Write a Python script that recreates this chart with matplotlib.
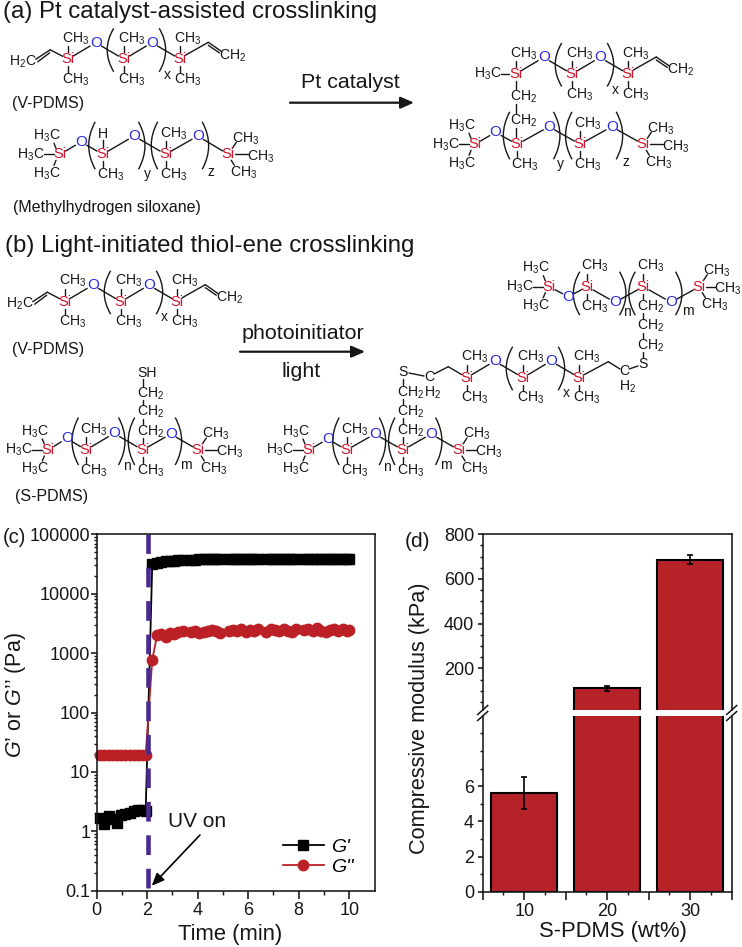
import matplotlib
matplotlib.use("Agg")
import matplotlib.pyplot as plt
from matplotlib.patches import PathPatch
from matplotlib.path import Path
from matplotlib.ticker import FixedLocator, NullFormatter

plt.rcParams['font.family'] = ['Liberation Sans', 'DejaVu Sans']
plt.rcParams['mathtext.fontset'] = 'custom'
plt.rcParams['mathtext.rm'] = 'Liberation Sans'
plt.rcParams['mathtext.it'] = 'Liberation Sans:italic'
plt.rcParams['mathtext.bf'] = 'Liberation Sans:bold'
plt.rcParams['mathtext.default'] = 'regular'

W, H = 742, 947

# panel (c) rheology
time_min = [0.13, 0.30, 0.47, 0.63, 0.80, 0.97, 1.13, 1.30, 1.47, 1.63, 1.80, 1.94,
            2.20, 2.39, 2.56, 2.73, 2.89, 3.06, 3.23, 3.40,
            3.72, 3.89, 4.06, 4.23, 4.40, 4.56, 4.73, 4.90,
            5.22, 5.39, 5.56, 5.73, 5.90, 6.06, 6.23, 6.40,
            6.72, 6.89, 7.06, 7.23, 7.40, 7.56, 7.73, 7.89,
            8.21, 8.38, 8.55, 8.72, 8.89, 9.06, 9.23, 9.40, 9.57, 9.74, 9.91, 9.99]
g_storage = [1.68, 1.35, 1.84, 1.63, 1.38, 1.91, 1.96, 2.05, 2.23, 2.32, 2.3, 2.23,
             32000, 33500, 34500, 35000, 35500, 36000, 36500, 36800,
             37200, 37500, 37800, 38000, 38200, 38400, 38500, 38600,
             38700, 38800, 38800, 38900, 38900, 39000, 39000, 39000,
             39000, 39000, 39100, 39100, 39000, 39100, 39100, 39000,
             39100, 39000, 39100, 39100, 39000, 39000, 39100, 39000, 39000, 39100, 39000, 39000]
g_loss = [19.4, 19.3, 19.3, 19.4, 19.3, 19.4, 19.3, 19.3, 19.4, 19.3, 19.4, 19.4,
          770, 2000, 2100, 1850, 2200, 2100, 2250, 2350,
          2250, 2400, 2150, 2300, 2350, 2450, 2400, 2200,
          2350, 2450, 2400, 2500, 2300, 2450, 2350, 2500,
          2300, 2550, 2450, 2350, 2500, 2400, 2300, 2500,
          2450, 2500, 2350, 2600, 2400, 2300, 2450, 2550, 2400, 2500, 2350, 2450]
uv_time = 2.03
c_yticks = [0.1, 1, 10, 100, 1000, 10000, 100000]
c_yticklabels = ['0.1', '1', '10', '100', '1000', '10000', '100000']

# panel (d) compressive modulus
spdms_wt = [10, 20, 30]
modulus_kpa = [5.6, 110, 687]
modulus_err = [0.9, 13, 20]


def px_axes(left, top, right, bottom):
    return fig.add_axes([left / W, 1 - bottom / H, (right - left) / W, (bottom - top) / H])


fig = plt.figure(figsize=(W / 100, H / 100), dpi=100, facecolor='white')
bg = fig.add_axes([0, 0, 1, 1])
bg.set_xlim(0, W)
bg.set_ylim(H, 0)
bg.axis('off')

INK = '#161616'
SI_RED = '#d0142c'
O_BLUE = '#2b2be0'


def lab(x, y, s, size=10.1, color=INK):
    bg.text(x, y, s, fontsize=size, color=color, ha='center', va='center')


def bond(x0, y0, x1, y1):
    bg.plot([x0, x1], [y0, y1], color=INK, lw=1.0, solid_capstyle='round')


def link(a, b, trim=6.5):
    dx, dy = b[0] - a[0], b[1] - a[1]
    d = (dx ** 2 + dy ** 2) ** 0.5
    ux, uy = dx / d * trim, dy / d * trim
    bond(a[0] + ux, a[1] + uy, b[0] - ux, b[1] - uy)


def paren(x, y0, y1, side):
    bulge = -13 if side == 'l' else 13
    verts = [(x, y0), (x + bulge, (y0 + y1) / 2), (x, y1)]
    bg.add_patch(PathPatch(Path(verts, [Path.MOVETO, Path.CURVE3, Path.CURVE3]),
                           fc='none', ec=INK, lw=1.0))


def si(x, y):
    lab(x, y, 'Si', color=SI_RED, size=10.5)


def ox(x, y):
    lab(x, y, 'O', color=O_BLUE, size=11)


def up_me(x, y):
    bond(x, y - 7, x, y - 13)
    lab(x + 7.5, y - 20.5, 'CH$_3$')


def dn_me(x, y):
    bond(x, y + 7, x, y + 13)
    lab(x + 7.5, y + 20.5, 'CH$_3$')


def end_left(x, y):
    si(x, y)
    lab(x - 13, y - 18.5, 'H$_3$C')
    lab(x - 29, y, 'H$_3$C')
    lab(x - 13, y + 19, 'H$_3$C')
    bond(x - 4, y - 6, x - 6, y - 11)
    bond(x - 16, y, x - 6.5, y)
    bond(x - 4, y + 6, x - 6, y + 11)


def end_right(x, y, reach=32.5):
    si(x, y)
    lab(x + 17.5, y - 16, 'CH$_3$')
    lab(x + reach, y + 2, 'CH$_3$')
    lab(x + 15.5, y + 18.5, 'CH$_3$')
    bond(x + 4, y - 6, x + 8, y - 12)
    bond(x + 6.5, y, x + reach - 13, y)
    bond(x + 3, y + 6, x + 6, y + 11)


def v_core(x, y):
    # Si-O-(Si-O)x-Si backbone shared by every vinyl siloxane
    si(x, y)
    ox(x + 28, y - 16.6)
    si(x + 56.3, y)
    ox(x + 84.2, y - 16.6)
    si(x + 112.6, y)
    up_me(x + 56.3, y)
    dn_me(x + 56.3, y)
    up_me(x + 112.6, y)
    dn_me(x + 112.6, y)
    link((x, y), (x + 28, y - 16.6))
    link((x + 28, y - 16.6), (x + 56.3, y))
    link((x + 56.3, y), (x + 84.2, y - 16.6))
    link((x + 84.2, y - 16.6), (x + 112.6, y))
    paren(x + 46, y - 31, y + 12.5, 'l')
    paren(x + 91.5, y - 31, y + 12.5, 'r')
    lab(x + 99.3, y + 15.5, 'x', size=10)


def vinyl_right(x, y):
    bond(x + 5, y - 4, x + 28, y - 17)
    bond(x + 28, y - 17, x + 41, y - 8)
    bond(x + 28, y - 14, x + 39, y - 6.5)
    lab(x + 52, y - 4, 'CH$_2$')


def vinyl_left(x, y):
    bond(x - 5, y - 3, x - 17.5, y - 9.5)
    bond(x - 17.5, y - 9.5, x - 32, y)
    bond(x - 18, y - 6.5, x - 30, y + 2.5)
    lab(x - 44.5, y + 2, 'H$_2$C')


def v_pdms(x, y):
    v_core(x, y)
    up_me(x, y)
    dn_me(x, y)
    vinyl_left(x, y)
    vinyl_right(x + 112.6, y)


def four_chain(sx, y, oxy, letters, s2, s3, reach=32.5):
    end_left(sx[0], y)
    end_right(sx[3], y, reach)
    si(sx[1], y)
    si(sx[2], y)
    for i, (ox_x, ox_y) in enumerate(oxy):
        ox(ox_x, ox_y)
        link((sx[i], y), (ox_x, ox_y))
        link((ox_x, ox_y), (sx[i + 1], y))
    below = oxy[0][1] > y
    y0, y1 = (y - 15, y + 28.5) if below else (y - 32.5, y + 15)
    paren(sx[1] - 7.5, y0, y1, 'l')
    paren(oxy[1][0] + 4.5, y0, y1, 'r')
    paren(sx[2] - 8, y0, y1, 'l')
    paren(oxy[2][0] + 4.5, y0, y1, 'r')
    for (lx, ly, s) in letters:
        lab(lx, ly, s, size=10)
    s2(sx[1], y)
    s3(sx[2], y)


def hydride(x, y):
    bond(x, y - 7, x, y - 14)
    lab(x, y - 20, 'H')
    dn_me(x, y)


def two_me(x, y):
    up_me(x, y)
    dn_me(x, y)


def ch2_stack(x, ys):
    for yy in ys:
        lab(x + 7.5, yy, 'CH$_2$')


# headings and arrows
bg.text(3, 12, '(a) Pt catalyst-assisted crosslinking', fontsize=17.3, color=INK, ha='left', va='center')
bg.text(5, 246, '(b) Light-initiated thiol-ene crosslinking', fontsize=17.3, color=INK, ha='left', va='center')
lab(350.5, 82, 'Pt catalyst', size=15.4)
lab(302.5, 333, 'photoinitiator', size=15.4)
lab(301, 371, 'light', size=15.4)
arrow = dict(arrowstyle='-|>,head_width=0.35,head_length=0.8', color=INK, lw=1.6, shrinkA=0, shrinkB=0)
bg.annotate('', xy=(414, 102.7), xytext=(290, 102.7), arrowprops=arrow)
bg.annotate('', xy=(365, 351.7), xytext=(240, 351.7), arrowprops=arrow)

lab(48.5, 103, '(V-PDMS)', size=11.5)
lab(107, 207, '(Methylhydrogen siloxane)', size=11.5)
lab(48.5, 349, '(V-PDMS)', size=11.5)
lab(51.5, 496, '(S-PDMS)', size=11.5)

# (a) reactants
v_pdms(67.7, 59.3)
four_chain([60, 102.7, 165.7, 228.3], 154.3, [(81, 142), (134, 136), (197.7, 136)],
           [(147, 174, 'y'), (211, 171.7, 'z')], hydride, two_me)

# (a) product
v_core(515.7, 74)
up_me(515.7, 74)
bond(508.5, 74, 501, 74)
lab(488.3, 74, 'H$_3$C')
vinyl_right(628.3, 74)
ch2_stack(515.7, [96.7, 120.7])
bond(515.7, 81, 515.7, 89)
bond(515.7, 104, 515.7, 113)
bond(515.7, 128, 515.7, 137)
four_chain([475, 517.3, 580, 643.3], 144.3, [(495.3, 132.3), (549, 126.7), (611.7, 126.7)],
           [(560.7, 164, 'y'), (625.7, 162.3, 'z')], dn_me, two_me)

# (b) reactants
v_pdms(64.7, 301.7)
four_chain([48.3, 86, 142.7, 198.3], 450, [(66.7, 438.3), (114, 433.3), (170.7, 434)],
           [(126.7, 466, 'n'), (186, 465, 'm')], two_me, dn_me, reach=31.5)
ch2_stack(142.7, [431.7, 412.3, 393.3])
lab(147.3, 372.7, 'SH')
for y0, y1 in [(379, 386), (400, 405), (419, 424), (438, 443)]:
    bond(142.7, y0, 142.7, y1)

# (b) product, three chains joined through S
four_chain([309, 346.7, 403, 459], 450, [(327.7, 439), (374.7, 434), (431, 434)],
           [(387.3, 466.7, 'n'), (446, 465.3, 'm')], two_me, dn_me, reach=30)
ch2_stack(403, [431, 411.7, 392.7])
lab(403, 372.3, 'S')
for y0, y1 in [(379, 385), (399, 404), (418, 424), (437, 443)]:
    bond(403, y0, 403, y1)

v_core(466.7, 377.7)
up_me(466.7, 377.7)
dn_me(466.7, 377.7)
lab(429, 377.3, 'C')
lab(433, 392.7, 'H$_2$')
bond(409, 373, 424, 376)
bond(434, 374, 448.3, 366.7)
bond(448.3, 366.7, 461.5, 374.5)
bond(584.5, 374.5, 608.3, 361.7)
bond(608.3, 361.7, 620, 369)
lab(624, 370.5, 'C')
lab(627.5, 386.5, 'H$_2$')
bond(629, 369, 638, 366)
lab(643.3, 364, 'S')

four_chain([549.3, 587.3, 643.3, 699.3], 286.7, [(568.3, 296.7), (615, 302.3), (671, 302.3)],
           [(626.7, 312.3, 'n'), (688.3, 310.7, 'm')], two_me, up_me, reach=28.5)
ch2_stack(643.3, [306.7, 326, 346])
for y0, y1 in [(294, 299), (313, 319), (333, 339), (352, 358)]:
    bond(643.3, y0, 643.3, y1)

# panel letters
bg.text(3, 537, '(c)', fontsize=14.5, color=INK, ha='left', va='center')
bg.text(405, 541, '(d)', fontsize=15, color=INK, ha='left', va='center')

# panel (c)
RED = '#bb2026'
FRAME = 1.15
ax = px_axes(96.7, 534.3, 374.5, 890.7)
ax.set_yscale('log')
ax.set_xlim(0, 11)
ax.set_ylim(0.1, 100000)
ax.plot(time_min, g_storage, '-s', color='black', ms=6.6, lw=1.3, label="G'", clip_on=False)
ax.plot(time_min, g_loss, '-o', color=RED, ms=7.5, lw=1.3, label="G''", clip_on=False)
ax.plot([uv_time, uv_time], [0.112, 100000], color='#4a2a8e', lw=3.3, dashes=(4.3, 3.0), dash_capstyle='butt')
ax.yaxis.set_major_locator(FixedLocator(c_yticks))
ax.set_yticklabels(c_yticklabels)
minor = [m * d for d in c_yticks[:-1] for m in range(2, 10)]
ax.yaxis.set_minor_locator(FixedLocator(minor))
ax.yaxis.set_minor_formatter(NullFormatter())
ax.set_xticks([0, 2, 4, 6, 8, 10])
ax.set_xticks([1, 3, 5, 7, 9], minor=True)
ax.tick_params(which='major', labelsize=13, color=INK, labelcolor=INK, width=FRAME)
ax.tick_params(axis='x', which='major', length=5.5, pad=2.5)
ax.tick_params(axis='y', which='major', length=4.2, pad=0.5)
ax.tick_params(axis='x', which='minor', length=3, width=FRAME * 0.9, color=INK)
ax.tick_params(axis='y', which='minor', length=2.4, width=FRAME * 0.9, color=INK)
for s in ax.spines.values():
    s.set_linewidth(FRAME)
    s.set_color(INK)
ax.set_xlabel('Time (min)', fontsize=15.8, color=INK)
ax.xaxis.set_label_coords((230 - 96.7) / 277.8, -(934 - 890.7) / 356.4)
ax.xaxis.label.set_va('center')
ax.set_ylabel(r"$\mathit{G}$’ or $\mathit{G}$’’ (Pa)", fontsize=15.5, color=INK)
ax.yaxis.set_label_coords((16 - 96.7) / 277.8, (890.7 - 695) / 356.4)
ax.yaxis.label.set_va('center')
ax.text(3.96, 1.49, 'UV on', fontsize=15, color=INK, ha='center', va='center')
ax.annotate('', xy=(2.18, 0.121), xytext=(4.09, 0.867),
            arrowprops=dict(arrowstyle='-|>,head_width=0.32,head_length=0.75', color='black', lw=1.2,
                            shrinkA=0, shrinkB=0))
leg = ax.legend(loc='lower left', bbox_to_anchor=((282.7 - 96.7) / 277.8, (890.7 - 876) / 356.4),
                frameon=False, handlelength=2.1, handletextpad=0.4, labelspacing=0.12,
                borderpad=0, borderaxespad=0, prop={'style': 'italic', 'size': 14})

# panel (d), broken y axis
dx_lims = (5, 35)
top = px_axes(482.7, 534.3, 731.7, 709.5)
low = px_axes(482.7, 715.7, 731.7, 891.7)
for a in (top, low):
    a.bar(spdms_wt, modulus_kpa, width=8, color='#b52227', edgecolor='black', linewidth=1.5)
    a.errorbar(spdms_wt, modulus_kpa, yerr=modulus_err, fmt='none', ecolor='black', elinewidth=1.2,
               capsize=2.2, capthick=1.2)
    a.set_xlim(*dx_lims)
    for s in a.spines.values():
        s.set_linewidth(FRAME)
        s.set_color(INK)
    a.tick_params(which='major', labelsize=13, color=INK, labelcolor=INK, width=FRAME)
    a.tick_params(axis='y', which='major', length=3.6, pad=2.6)
    a.tick_params(axis='x', which='major', length=5.5, pad=2.5)
    a.tick_params(which='minor', length=2.4, width=FRAME * 0.9, color=INK)
top.set_ylim(16, 800)
low.set_ylim(0, 10)
top.spines['bottom'].set_visible(False)
low.spines['top'].set_visible(False)
top.set_xticks([])
top.set_yticks([200, 400, 600, 800])
top.set_yticks([50, 100, 150, 250, 300, 350, 450, 500, 550, 650, 700, 750], minor=True)
low.set_yticks([0, 2, 4, 6])
low.set_yticks([1, 3, 5, 7, 8, 9], minor=True)
low.set_xticks([5, 10, 15, 20, 25, 30, 35])
low.set_xticklabels(['', '10', '', '20', '', '30', ''])
low.set_xticks([7.5, 12.5, 17.5, 22.5, 27.5, 32.5], minor=True)
low.set_xlabel('S-PDMS (wt%)', fontsize=15.8, color=INK)
low.xaxis.set_label_coords((613 - 482.7) / 249, -(931 - 891.7) / 176)
low.xaxis.label.set_va('center')
bg.text(420, 718, 'Compressive modulus (kPa)', fontsize=15.6, color=INK, rotation=90, ha='center', va='center')

# break marks sit on the figure, between the two axes
for bx in (482.7, 731.7):
    for off in (-3, 3):
        fig.add_artist(plt.Line2D([(bx - 5) / W, (bx + 5) / W],
                                  [1 - (713 + off + 4.5) / H, 1 - (713 + off - 4.5) / H],
                                  color=INK, lw=1.1))

fig.savefig('out.png', dpi=100, facecolor='white')
